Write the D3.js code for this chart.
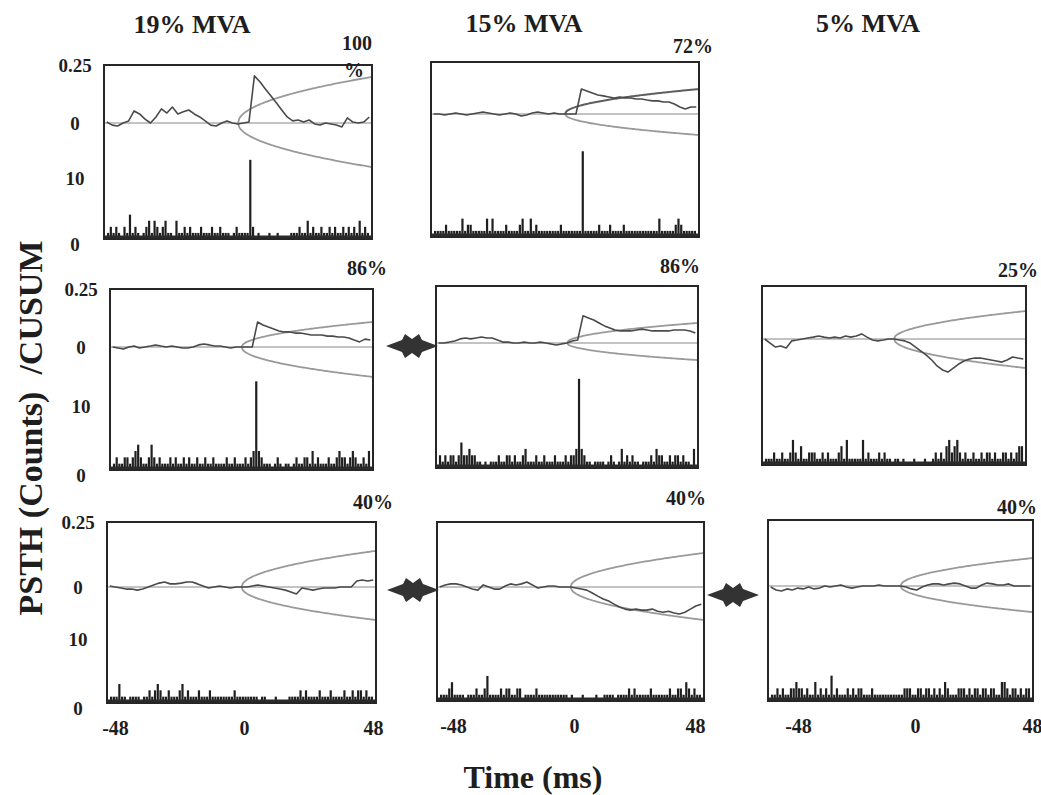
<!DOCTYPE html>
<html><head><meta charset="utf-8">
<script src="https://cdn.jsdelivr.net/npm/d3@7"></script>
<style>
body{margin:0;background:#fff;}
svg{display:block;background:#fff;}
text{font-family:"Liberation Serif","Times New Roman",serif;font-weight:bold;fill:#1e1e1e;}
</style></head><body>
<svg id="chart" width="1041" height="795"></svg>
<script>
// ---------------- DATA ----------------
const columnTitles = ["19% MVA", "15% MVA", "5% MVA"];
const xTickValues = [-48, 0, 48];
const cusumTickValues = [0, 0.25];
const psthTickValues = [0, 10];
const axisTitleY = "PSTH (Counts)  /CUSUM";
const axisTitleX = "Time (ms)";

// CUSUM sampled every 2 ms from -48 to 48 ms
const cusumTimes = d3.range(-48, 49, 2);
// PSTH 1 ms bins starting at -48 .. 47 ms
const histBins = d3.range(-48, 48);

const cusum_r1c1 = [0.004,-0.009,-0.013,0,0.009,0.052,0.039,0.017,0,0.026,0.061,0.043,0.069,0.039,0.048,0.056,0.039,0.026,0.009,-0.009,-0.013,0,0.009,0,-0.004,0,0.004,0.203,0.178,0.147,0.117,0.087,0.056,0.026,0.009,0.013,0.004,0.013,-0.004,-0.009,0,-0.004,-0.009,-0.017,0.022,0.004,0,0.004,0.026];
const cusum_r1c2 = [0,0,-0.005,0,0.005,0,-0.005,0,0.005,0.010,0.005,0,-0.005,0,0.005,0,-0.010,-0.005,0.005,0.010,0.005,0,0.005,0,0,0,0,0.120,0.111,0.101,0.091,0.087,0.082,0.077,0.082,0.077,0.077,0.072,0.072,0.067,0.063,0.063,0.058,0.058,0.048,0.034,0.024,0.034,0.034];
const cusum_r2c1 = [0,-0.004,-0.009,0,0.004,-0.004,0,0.004,0.009,0.004,0,0.004,0,-0.004,-0.004,0,0.009,0.013,0.009,0.004,0.004,0,-0.004,0,0,0,0,0.108,0.095,0.086,0.078,0.069,0.065,0.065,0.060,0.060,0.056,0.052,0.052,0.052,0.047,0.047,0.043,0.043,0.039,0.030,0.022,0.034,0.030];
const cusum_r2c2 = [0,0,0.004,0.009,0.018,0.022,0.018,0.022,0.026,0.022,0.022,0.013,0.004,0.004,0,0,0.004,0,0,0.004,0,-0.004,-0.009,-0.004,0,0.009,0.013,0.119,0.110,0.101,0.088,0.075,0.066,0.057,0.053,0.053,0.053,0.057,0.061,0.057,0.053,0.053,0.053,0.053,0.057,0.057,0.057,0.053,0.044];
const cusum_r2c3 = [0,-0.019,-0.038,-0.033,-0.042,-0.009,-0.005,0,0.005,0.009,0.014,0.009,0.005,0.009,0.005,0.014,0.009,0.014,0.024,0.009,-0.005,-0.009,-0.005,0,0,-0.005,-0.009,-0.019,-0.038,-0.057,-0.076,-0.099,-0.127,-0.146,-0.156,-0.137,-0.118,-0.104,-0.094,-0.090,-0.090,-0.094,-0.099,-0.104,-0.109,-0.099,-0.085,-0.090,-0.094];
const cusum_r3c1 = [0.004,0,-0.004,-0.008,-0.008,-0.012,-0.008,0,0.008,0.015,0.019,0.012,0.012,0.015,0.019,0.019,0.012,0.004,-0.004,0,0.004,0,-0.004,0,0,0,0.004,0.008,0.004,0,-0.004,-0.008,-0.012,-0.019,-0.027,-0.004,-0.008,-0.012,-0.008,-0.004,-0.004,-0.004,0,0,0,0.023,0.027,0.023,0.027];
const cusum_r3c2 = [0,0.008,0.012,0.012,0.008,0,-0.008,-0.012,0.008,0,-0.008,-0.008,0.004,0.012,0.008,0.012,0.019,0.008,-0.004,0,0.004,0.004,0,0,0,-0.004,-0.008,-0.012,-0.023,-0.035,-0.046,-0.054,-0.066,-0.077,-0.085,-0.089,-0.085,-0.089,-0.089,-0.085,-0.093,-0.097,-0.093,-0.100,-0.104,-0.097,-0.085,-0.073,-0.066];
const cusum_r3c3 = [-0.004,-0.015,-0.019,-0.011,-0.015,-0.008,-0.011,-0.004,-0.011,-0.008,0,-0.004,0,0.004,-0.004,-0.008,-0.004,0,0,0,0.004,0,0,0,0,-0.004,-0.011,-0.015,-0.004,0.004,0.008,0.008,0.004,0.008,0.011,0.008,0,-0.008,-0.008,0.004,0.011,0.008,0.004,0.004,0.008,0,0,0,0];

const hist_r1c1 = [1,2,1,2,1,0,2,1,4,1, 2,1,0,1,2,3,1,3,2,1, 2,3,1,1,0,3,1,1,2,1, 2,1,1,1,2,1,1,1,2,1, 1,2,1,1,1,0,1,2, 1,1,1,1,13,2,0,1,0,0, 0,1,0,0,1,0,0,0,0,1, 1,1,2,1,1,3,1,2,1,1, 2,1,1,2,1,2,1,1,2,1, 2,1,2,1,3,1,2,1];
const hist_r1c2 = [1,1,1,1,2,1,1,1,1,1, 3,1,2,2,1,1,1,1,1,3, 1,3,1,1,1,1,2,1,1,1, 1,2,3,1,1,3,1,2,1,1, 1,1,1,1,1,1,2,1, 1,1,1,1,1,1,14,1,1,1, 1,1,2,1,1,1,2,1,1,1, 1,2,1,1,1,1,1,1,1,1, 1,1,1,1,3,1,1,1,1,1, 2,3,2,1,1,1,1,1];
const hist_r2c1 = [1,2,1,1,2,2,1,2,3,4, 2,1,1,2,4,2,1,2,1,1, 1,2,1,2,1,1,2,1,2,1, 1,2,1,1,2,1,1,2,1,1, 1,1,2,1,1,2,1,1, 1,2,1,2,3,14,3,2,1,1, 1,0,1,2,1,0,1,1,0,1, 2,1,1,2,2,1,3,1,2,1, 1,1,2,1,1,2,3,2,2,1, 2,3,2,1,1,2,1,3];
const hist_r2c2 = [2,1,2,1,2,2,1,2,4,2, 2,3,2,2,1,1,0,1,0,1, 1,1,2,1,1,2,2,1,2,1, 1,2,3,1,1,1,2,1,1,2, 1,1,1,2,1,1,1,2, 1,2,2,3,14,3,2,1,1,0, 1,1,1,1,0,1,2,1,0,1, 3,1,2,1,2,1,1,0,1,1, 1,2,1,3,2,2,1,1,2,1, 2,2,1,2,1,1,0,3];
const hist_r2c3 = [1,1,1,2,1,1,2,1,1,2, 4,2,1,3,1,1,2,2,2,1, 1,2,1,2,1,1,1,2,3,1, 4,1,1,1,1,1,4,1,2,1, 1,1,2,1,2,1,1,0, 1,1,0,1,0,0,0,1,0,0, 0,1,0,0,1,2,1,2,1,3, 4,2,3,4,2,1,2,1,1,2, 1,1,2,1,2,2,1,2,1,1, 2,2,1,2,1,2,3,3];
const hist_r3c1 = [1,1,1,3,1,1,0,1,1,1, 1,0,1,1,2,1,2,3,2,1, 1,2,1,1,1,2,3,1,2,1, 1,1,2,1,1,1,2,1,1,1, 1,1,1,1,1,2,1,1, 1,1,1,1,1,1,0,1,1,0, 0,0,1,0,0,0,0,1,1,1, 1,2,1,2,1,1,1,1,2,1, 1,1,2,1,1,1,1,2,1,1, 2,1,2,2,1,2,1,1];
const hist_r3c2 = [1,1,1,2,3,1,1,1,1,0, 1,1,1,2,1,1,2,4,1,1, 1,1,2,1,2,2,1,1,2,2, 0,1,1,1,1,2,1,1,1,1, 1,1,1,1,1,1,1,0, 1,0,0,0,1,0,0,0,0,1, 0,0,1,1,1,1,0,1,1,1, 1,2,1,2,1,1,1,1,1,2, 1,1,1,1,1,1,2,1,1,2, 2,1,3,2,1,2,1,1];
const hist_r3c3 = [1,1,2,1,2,1,1,2,2,3, 2,2,1,2,1,1,3,1,2,1, 2,1,4,1,2,1,1,1,2,1, 2,1,2,2,1,1,1,2,1,1, 1,1,1,1,1,1,1,1, 1,2,2,2,1,1,2,2,1,2, 2,1,2,1,2,1,3,2,1,1, 1,2,2,2,1,2,1,2,2,1, 2,2,1,2,2,1,1,3,3,2, 1,2,2,1,2,1,2,2];

// confidence limits (CUSUM units) reached at the right edge, upper / lower
const limitUpper = [0.199, 0.120, 0.108, 0.088, 0.132, 0.139, 0.131, 0.106];
const limitLower = [0.190, 0.101, 0.129, 0.075, 0.137, 0.127, 0.127, 0.099];
const percentLabels = [["100", "%"], ["72%"], ["86%"], ["86%"], ["25%"], ["40%"], ["40%"], ["40%"]];

// ---------------- LAYOUT ----------------
const layout = [
  {x0:104, y0:65,  x1:372,  y1:239, zero:123, col:0, yTicks:true,  xTicks:false, pct:[[372,50],[364,77]]},
  {x0:431, y0:62,  x1:699,  y1:237, zero:114, col:1, yTicks:false, xTicks:false, pct:[[713,53]]},
  {x0:110, y0:289, x1:373,  y1:470, zero:347, col:0, yTicks:true,  xTicks:false, pct:[[387,275]]},
  {x0:436, y0:286, x1:698,  y1:468, zero:343, col:1, yTicks:false, xTicks:false, pct:[[700,273]]},
  {x0:762, y0:286, x1:1026, y1:465, zero:339, col:2, yTicks:false, xTicks:false, pct:[[1038,277]]},
  {x0:107, y0:522, x1:376,  y1:703, zero:587, col:0, yTicks:true,  xTicks:true,  pct:[[393,509]]},
  {x0:437, y0:522, x1:704,  y1:701, zero:587, col:1, yTicks:false, xTicks:true,  pct:[[706,505]]},
  {x0:768, y0:520, x1:1033, y1:701, zero:586, col:2, yTicks:false, xTicks:true,  pct:[[1037,514]]}
];
const xLabelRanges = [[115,373],[453,695],[798,1032]];
const titlePos = [[192,33],[524,32],[868,32]];
const starPos = [[412,346],[413,590],[733,595]];

const cusums = [cusum_r1c1,cusum_r1c2,cusum_r2c1,cusum_r2c2,cusum_r2c3,cusum_r3c1,cusum_r3c2,cusum_r3c3];
const hists = [hist_r1c1,hist_r1c2,hist_r2c1,hist_r2c2,hist_r2c3,hist_r3c1,hist_r3c2,hist_r3c3];

// ---------------- DRAW ----------------
const svg = d3.select("#chart");

columnTitles.forEach((t, i) => {
  svg.append("text").attr("x", titlePos[i][0]).attr("y", titlePos[i][1])
    .attr("text-anchor", "middle").attr("font-size", 26).text(t);
});

layout.forEach((p, k) => {
  const g = svg.append("g");
  const x = d3.scaleLinear().domain([-49, 49]).range([p.x0, p.x1]);
  const yC = d3.scaleLinear().domain([0, 0.25]).range([p.zero, p.y0]);
  const yP = d3.scaleLinear().domain([0, 10]).range([p.y1, p.y1 - 0.35 * (p.y1 - p.y0)]);

  // PSTH bars
  g.selectAll("rect.bar")
    .data(hists[k].map((v, i) => ({t: histBins[i], v})))
    .join("rect").attr("class", "bar")
    .attr("x", d => x(d.t + 0.5) - 1.1).attr("width", 2.2)
    .attr("y", d => yP(d.v)).attr("height", d => yP(0) - yP(d.v))
    .attr("fill", "#1f1f1f");
  g.append("line").attr("x1", p.x0).attr("x2", p.x1).attr("y1", p.y1 - 2).attr("y2", p.y1 - 2)
    .attr("stroke", "#2a2a2a").attr("stroke-width", 3);

  // zero line
  g.append("line").attr("x1", p.x0).attr("x2", p.x1).attr("y1", yC(0)).attr("y2", yC(0))
    .attr("stroke", "#888").attr("stroke-width", 1.2);

  // confidence limits
  const lt = d3.range(0, 49.01, 0.5);
  const lineUp = d3.line().x(t => x(t)).y(t => yC(limitUpper[k] * Math.sqrt(t / 49)));
  const lineLo = d3.line().x(t => x(t)).y(t => yC(-limitLower[k] * Math.sqrt(t / 49)));
  g.append("path").attr("d", lineUp(lt)).attr("fill", "none").attr("stroke", k === 1 ? "#5e5e5e" : "#9a9a9a").attr("stroke-width", k === 1 ? 2 : 1.8);
  g.append("path").attr("d", lineLo(lt)).attr("fill", "none").attr("stroke", "#9a9a9a").attr("stroke-width", 1.8);

  // CUSUM trace
  const cl = d3.line().x((d, i) => x(cusumTimes[i])).y(d => yC(d));
  g.append("path").attr("d", cl(cusums[k])).attr("fill", "none")
    .attr("stroke", "#4a4a4a").attr("stroke-width", 1.6).attr("stroke-linejoin", "round");

  // frame
  g.append("rect").attr("x", p.x0).attr("y", p.y0).attr("width", p.x1 - p.x0).attr("height", p.y1 - p.y0)
    .attr("fill", "none").attr("stroke", "#262626").attr("stroke-width", 2);

  // y tick labels
  if (p.yTicks) {
    const a1 = g.append("g").attr("transform", `translate(${p.x0},0)`)
      .call(d3.axisLeft(yC).tickValues(cusumTickValues).tickSize(0).tickFormat(d => d === 0 ? "0" : "0.25"));
    const a2 = g.append("g").attr("transform", `translate(${p.x0},0)`)
      .call(d3.axisLeft(yP).tickValues(psthTickValues).tickSize(0).tickFormat(d3.format("d")));
    [a1, a2].forEach(a => {
      a.select(".domain").remove();
      a.selectAll("text").attr("x", -29).attr("text-anchor", "middle")
        .attr("font-size", 19).attr("font-family", null).attr("fill", "#1e1e1e");
    });
    a2.selectAll("text").filter(d => d === 0).attr("dy", "0.6em");
  }
  // x tick labels
  if (p.xTicks) {
    const xl = d3.scaleLinear().domain([-48, 48]).range(xLabelRanges[p.col]);
    const ax = g.append("g").attr("transform", `translate(0,${p.y1})`)
      .call(d3.axisBottom(xl).tickValues(xTickValues).tickSize(0).tickPadding(18).tickFormat(d3.format("d")));
    ax.select(".domain").remove();
    ax.selectAll("text").attr("font-size", 20).attr("font-family", null).attr("fill", "#1e1e1e")
      .text(d => (d < 0 ? "-" : "") + Math.abs(d));
  }

  // percentage label
  percentLabels[k].forEach((s, j) => {
    svg.append("text").attr("x", p.pct[j][0]).attr("y", p.pct[j][1])
      .attr("text-anchor", "end").attr("font-size", 20).text(s);
  });
});

// stars (arrows between panels)
const starPts = [[-26,0],[-10,-6],[-7,-12],[0,-7],[7,-12],[10,-6],[26,0],[10,6],[7,12],[0,7],[-7,12],[-10,6]];
starPos.forEach(s => {
  svg.append("polygon").attr("points", starPts.map(q => [s[0] + q[0], s[1] + q[1]].join(",")).join(" "))
    .attr("fill", "#333");
});

// axis titles
svg.append("text").attr("transform", "translate(42,428) rotate(-90)")
  .attr("text-anchor", "middle").attr("font-size", 34).style("white-space", "pre").text(axisTitleY);
svg.append("text").attr("x", 533).attr("y", 788).attr("text-anchor", "middle")
  .attr("font-size", 32).text(axisTitleX);
</script>
</body></html>
